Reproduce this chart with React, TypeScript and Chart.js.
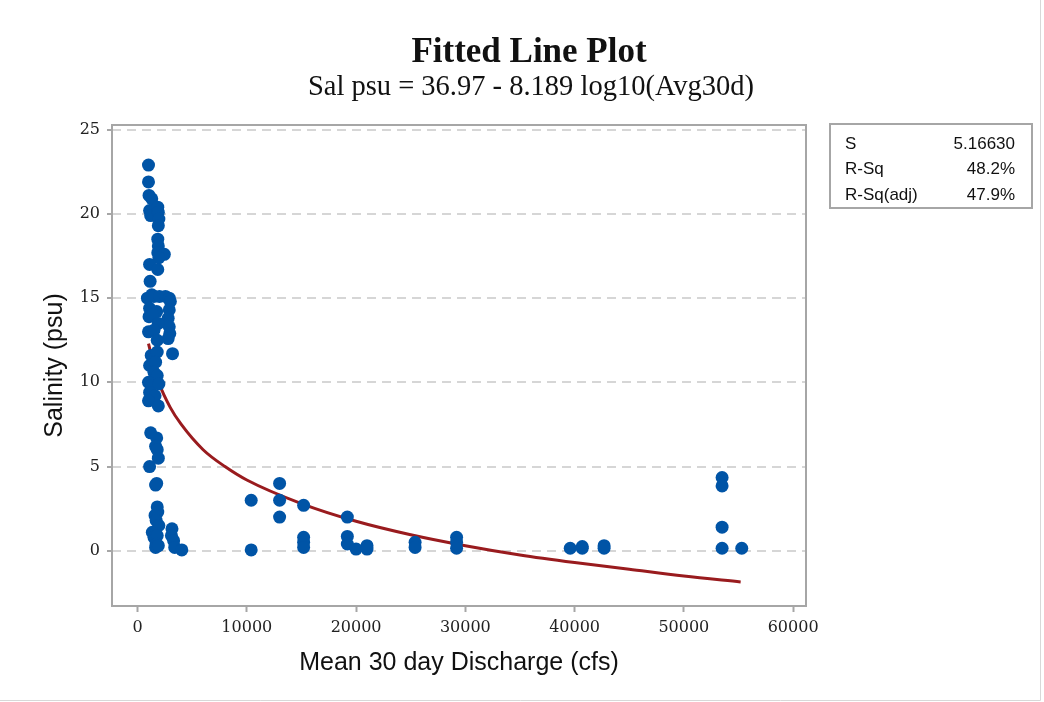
import React, { useEffect, useRef } from 'react';
import { Chart, registerables } from 'chart.js';

Chart.register(...registerables);

const titleText = 'Fitted Line Plot';
const subtitleText = 'Sal psu = 36.97 - 8.189 log10(Avg30d)';
const xAxisTitle = 'Mean 30 day Discharge (cfs)';
const yAxisTitle = 'Salinity (psu)';
const xTicks = [0, 10000, 20000, 30000, 40000, 50000, 60000];
const yTicks = [0, 5, 10, 15, 20, 25];
const statLabels = ['S', 'R-Sq', 'R-Sq(adj)'];
const statValues = ['5.16630', '48.2%', '47.9%'];

// observed points (Mean 30 day discharge, salinity)
const obsDischarge = [
  1000, 1000, 1050, 1300, 1100, 1200, 1850, 1900, 1950, 1900,
  1850, 1900, 1850, 2450, 1950, 1100, 1850, 1150, 1300, 900,
  1500, 2000, 2550, 2900, 3000, 1100, 1750, 2900, 1050, 1350,
  2800, 2900, 1900, 1000, 1500, 2950, 2800, 1800, 3200, 1250,
  1800, 1100, 1650, 1500, 1800, 1000, 1250, 1950, 1100, 1600,
  1000, 1900, 1200, 1750, 1650, 1800, 1900, 1100, 1650, 1750,
  1800, 1850, 1600, 1700, 1950, 1350, 1500, 1800, 1700, 1650,
  1900, 3150, 3100, 3300, 3400, 4050,
  10400, 10400, 13000, 13000, 13000, 15200, 15200, 15200, 15200,
  19200, 19200, 19200, 20000, 21000, 21000, 25400, 25400,
  29200, 29200, 29200, 39600, 40700, 40700, 42700, 42700,
  53500, 53500, 53500, 53500, 55300,
];
const obsSalinity = [
  22.9, 21.9, 21.1, 20.9, 20.2, 19.9, 20.4, 20.1, 19.7, 19.3,
  18.5, 18.1, 17.7, 17.6, 17.4, 17.0, 16.7, 16.0, 15.2, 15.0,
  15.1, 15.1, 15.1, 15.0, 14.8, 14.4, 14.2, 14.3, 13.9, 14.0,
  13.8, 13.3, 13.5, 13.0, 13.1, 12.9, 12.6, 12.5, 11.7, 11.6,
  11.8, 11.0, 11.2, 10.6, 10.4, 10.0, 9.8, 9.9, 9.4, 9.2,
  8.9, 8.6, 7.0, 6.7, 6.2, 6.0, 5.5, 5.0, 3.9, 4.0,
  2.6, 2.3, 2.1, 1.8, 1.5, 1.1, 0.8, 0.9, 0.4, 0.2,
  0.3, 1.3, 0.9, 0.6, 0.2, 0.05,
  3.0, 0.05, 4.0, 3.0, 2.0, 2.7, 0.8, 0.5, 0.2,
  2.0, 0.85, 0.4, 0.1, 0.3, 0.1, 0.5, 0.2,
  0.8, 0.5, 0.15, 0.15, 0.25, 0.15, 0.3, 0.15,
  4.35, 3.85, 1.4, 0.15, 0.15,
];

// fitted curve
const fitDischarge = [1000, 1500, 2000, 3000, 4000, 6000, 8000, 10000, 15000, 20000, 25000, 30000, 35000, 40000, 45000, 50000, 55200];
const fitSalinity = [12.3, 11.0, 9.9, 8.5, 7.5, 6.0, 5.0, 4.2, 2.8, 1.75, 0.95, 0.3, -0.25, -0.7, -1.1, -1.5, -1.85];

const decorPlugin = {
  id: 'decor',
  beforeDatasetsDraw(chart: any) {
    const { ctx, chartArea: a } = chart;
    ctx.save();
    ctx.strokeStyle = '#a6a6a6';
    ctx.lineWidth = 2;
    ctx.strokeRect(a.left, a.top, a.right - a.left, a.bottom - a.top);
    ctx.restore();
  },
  afterDraw(chart: any) {
    const { ctx } = chart;
    ctx.save();
    ctx.fillStyle = '#111';
    ctx.textAlign = 'center';
    ctx.textBaseline = 'alphabetic';
    ctx.font = 'bold 35px "Liberation Serif"';
    ctx.fillText(titleText, 529, 62);
    ctx.font = '28.5px "Liberation Serif"';
    ctx.fillText(subtitleText, 531, 95);

    // statistics box
    ctx.strokeStyle = '#a6a6a6';
    ctx.lineWidth = 2;
    ctx.strokeRect(830, 124, 202, 84);
    ctx.font = '17px "Liberation Sans"';
    ctx.fillStyle = '#111';
    statLabels.forEach((lab, i) => {
      const y = 148.5 + i * 25.5;
      ctx.textAlign = 'left';
      ctx.fillText(lab, 845, y);
      ctx.textAlign = 'right';
      ctx.fillText(statValues[i], 1015, y);
    });

    // outer frame edges
    ctx.strokeStyle = '#d8d8d8';
    ctx.lineWidth = 1;
    ctx.beginPath();
    ctx.moveTo(1040.5, 0);
    ctx.lineTo(1040.5, 700.5);
    ctx.lineTo(0, 700.5);
    ctx.stroke();
    ctx.restore();
  },
};

export default function App() {
  const canvasRef = useRef<HTMLCanvasElement | null>(null);

  useEffect(() => {
    if (!canvasRef.current) return;
    const obs = obsDischarge.map((x, i) => ({ x, y: obsSalinity[i] }));
    const fit = fitDischarge.map((x, i) => ({ x, y: fitSalinity[i] }));
    const tickFont = { family: '"DejaVu Serif"', size: 16 };
    const chart = new Chart(canvasRef.current, {
      type: 'scatter',
      data: {
        datasets: [
          {
            label: 'Observed',
            data: obs,
            backgroundColor: '#0054a6',
            borderColor: '#0054a6',
            borderWidth: 0,
            pointRadius: 6.5,
            pointHoverRadius: 6.5,
          },
          {
            label: 'Fit',
            data: fit,
            showLine: true,
            borderColor: '#991b1e',
            backgroundColor: '#991b1e',
            borderWidth: 3,
            pointRadius: 0,
            cubicInterpolationMode: 'monotone',
            fill: false,
          } as any,
        ],
      },
      options: {
        responsive: false,
        animation: false,
        layout: { padding: { left: 0, top: 125, right: 238, bottom: 0 } },
        plugins: {
          legend: { display: false },
          tooltip: { enabled: false },
        },
        scales: {
          x: {
            type: 'linear',
            min: -2340,
            max: 61180,
            afterBuildTicks: (s: any) => {
              s.ticks = xTicks.map((v) => ({ value: v }));
            },
            afterFit: (s: any) => {
              s.height = 96;
            },
            grid: {
              drawOnChartArea: false,
              drawTicks: true,
              tickLength: 6,
              tickWidth: 2,
              tickColor: '#a6a6a6',
            },
            border: { display: false },
            ticks: {
              font: tickFont,
              color: '#222',
              padding: 6,
              maxRotation: 0,
              autoSkip: false,
              callback: (v: any) => String(v),
            },
            title: {
              display: true,
              text: xAxisTitle,
              font: { family: '"Liberation Sans"', size: 25 },
              color: '#111',
              padding: { top: 0, bottom: 24 },
            },
          },
          y: {
            type: 'linear',
            min: -3.28,
            max: 25.28,
            afterBuildTicks: (s: any) => {
              s.ticks = yTicks.map((v) => ({ value: v }));
            },
            afterFit: (s: any) => {
              s.width = 112;
            },
            grid: {
              color: '#d6d6d6',
              lineWidth: 2,
              drawTicks: true,
              tickLength: 5,
              tickWidth: 2,
              tickColor: '#a6a6a6',
            },
            border: { display: false, dash: [9, 6] },
            ticks: {
              font: tickFont,
              color: '#222',
              padding: 7,
              autoSkip: false,
              callback: (v: any) => String(v),
            },
            title: {
              display: true,
              text: yAxisTitle,
              font: { family: '"Liberation Sans"', size: 25 },
              color: '#111',
              padding: { top: 40, bottom: 0 },
            },
          },
        },
      },
      plugins: [decorPlugin],
    });
    return () => chart.destroy();
  }, []);

  return (
    <div style={{ position: 'absolute', left: 0, top: 0, width: 1044, height: 702, background: '#fff' }}>
      <canvas ref={canvasRef} width={1044} height={702} style={{ display: 'block' }} />
    </div>
  );
}
